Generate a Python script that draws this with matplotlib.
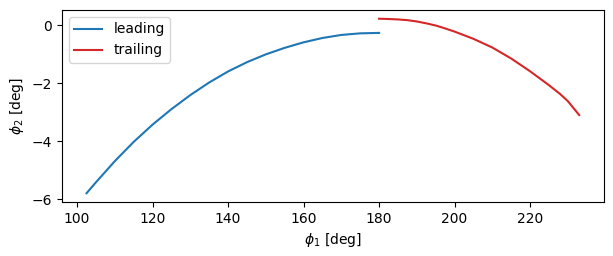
import matplotlib
matplotlib.use("Agg")
import matplotlib.pyplot as plt

# Valores (phi1, phi2 en grados)
phi1_leading = [102.5, 105, 110, 115, 120, 125, 130, 135, 140, 145, 150, 155, 160, 165, 170, 175, 180]
phi2_leading = [-5.80, -5.42, -4.69, -4.025, -3.43, -2.895, -2.41, -1.975, -1.595, -1.275, -1.005, -0.78, -0.59, -0.44, -0.335, -0.28, -0.265]

phi1_trailing = [180, 182.5, 185, 187.5, 190, 192.5, 195, 197.5, 200, 205, 210, 215, 220, 225, 228, 230, 233]
phi2_trailing = [0.225, 0.215, 0.20, 0.175, 0.13, 0.065, -0.01, -0.11, -0.22, -0.47, -0.77, -1.15, -1.59, -2.07, -2.38, -2.62, -3.10]

fig, ax = plt.subplots(figsize=(6.13, 2.56), dpi=100)
fig.subplots_adjust(left=0.101, right=0.985, top=0.961, bottom=0.211)

ax.plot(phi1_leading, phi2_leading, color='tab:blue', label='leading')
ax.plot(phi1_trailing, phi2_trailing, color='tab:red', label='trailing')

ax.set_xlabel(r'$\phi_1$ [deg]')
ax.set_ylabel(r'$\phi_2$ [deg]')
ax.set_xticks([100, 120, 140, 160, 180, 200, 220])
ax.set_yticks([0, -2, -4, -6])
ax.legend(loc='upper left')

fig.savefig('out.png', dpi=100)
